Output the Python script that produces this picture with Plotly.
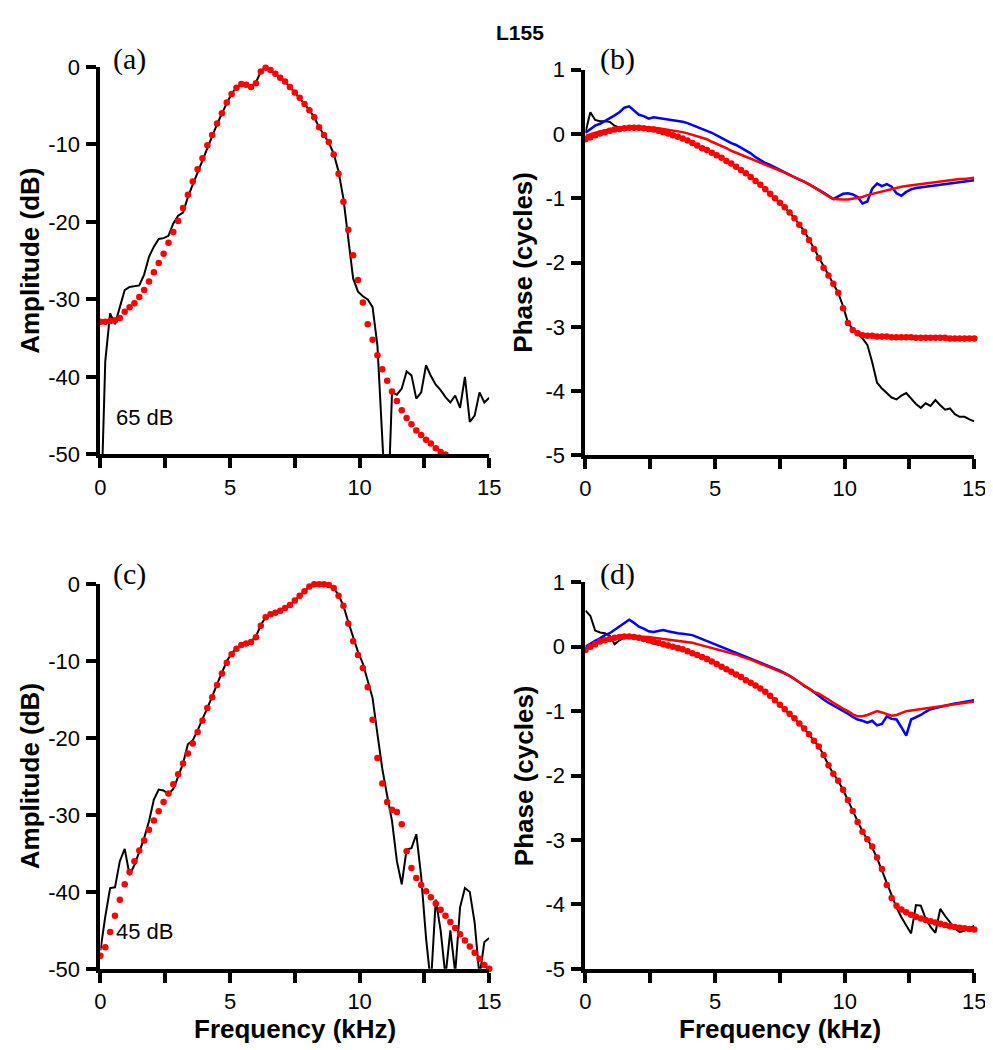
import plotly.graph_objects as go

# ---------------- data ----------------
freq_khz = [0.0, 0.1875, 0.375, 0.5625, 0.75, 0.9375, 1.125, 1.3125, 1.5, 1.6875,
            1.875, 2.0625, 2.25, 2.4375, 2.625, 2.8125, 3.0, 3.1875, 3.375, 3.5625,
            3.75, 3.9375, 4.125, 4.3125, 4.5, 4.6875, 4.875, 5.0625, 5.25, 5.4375,
            5.625, 5.8125, 6.0, 6.1875, 6.375, 6.5625, 6.75, 6.9375, 7.125, 7.3125,
            7.5, 7.6875, 7.875, 8.0625, 8.25, 8.4375, 8.625, 8.8125, 9.0, 9.1875,
            9.375, 9.5625, 9.75, 9.9375, 10.125, 10.3125, 10.5, 10.6875, 10.875, 11.0625,
            11.25, 11.4375, 11.625, 11.8125, 12.0, 12.1875, 12.375, 12.5625, 12.75, 12.9375,
            13.125, 13.3125, 13.5, 13.6875, 13.875, 14.0625, 14.25, 14.4375, 14.625, 14.8125,
            15.0]

# (a) amplitude, 65 dB
amp65_measured = [-60, -38.0, -31.8, -33.2, -31.0, -28.8, -28.4, -28.3, -28.2, -26.8,
                  -24.5, -23.2, -22.2, -22.1, -21.8, -20.2, -19.2, -18.8, -16.8, -15.2,
                  -13.6, -12.0, -10.4, -8.9, -7.4, -6.0, -4.6, -3.4, -2.7, -2.2,
                  -2.3, -2.6, -2.0, -0.6, 0.0, -0.4, -0.9, -1.4, -1.9, -2.6,
                  -3.3, -4.0, -4.8, -5.6, -6.5, -7.8, -8.8, -9.8, -11.2, -13.5,
                  -17.0, -22.5, -27.3, -29.0, -29.6, -30.0, -31.0, -36.0, -46.0, -60.0,
                  -42.0, -42.3, -41.5, -39.3, -39.8, -42.8, -42.0, -38.5, -39.9, -41.0,
                  -41.7, -42.6, -43.3, -42.4, -44.0, -40.0, -45.8, -45.0, -42.0, -43.3,
                  -42.7]
amp65_model = [-32.9, -32.9, -32.8, -32.7, -32.4, -31.6, -31.0, -30.5, -29.7, -28.8,
               -27.7, -26.5, -25.3, -24.1, -22.7, -21.3, -19.9, -18.2, -16.5, -14.8,
               -13.2, -11.8, -10.1, -8.8, -7.3, -6.0, -4.6, -3.5, -2.7, -2.2,
               -2.3, -2.6, -2.1, -0.6, -0.1, -0.4, -0.9, -1.4, -1.9, -2.6,
               -3.3, -4.0, -4.8, -5.6, -6.5, -7.8, -8.8, -9.7, -11.3, -13.8,
               -17.4, -21.0, -24.3, -27.5, -30.4, -33.2, -35.2, -37.2, -39.0, -40.5,
               -41.9, -43.1, -44.3, -45.3, -46.1, -46.9, -47.5, -48.1, -48.6, -49.2,
               -49.7, -50.0, None, None, None, None, None, None, None, None,
               None]

# (b) phase, 65 dB
phase65_measured = [0.02, 0.34, 0.22, 0.20, 0.20, 0.19, 0.13, 0.10, 0.10, 0.10,
                    0.10, 0.10, 0.09, 0.08, 0.07, 0.05, 0.03, 0.01, -0.02, -0.04,
                    -0.07, -0.10, -0.14, -0.18, -0.21, -0.25, -0.29, -0.33, -0.37, -0.42,
                    -0.46, -0.51, -0.56, -0.61, -0.67, -0.73, -0.79, -0.86, -0.93, -1.00,
                    -1.07, -1.14, -1.22, -1.31, -1.41, -1.51, -1.64, -1.78, -1.92, -2.07,
                    -2.21, -2.34, -2.47, -2.68, -2.93, -3.04, -3.10, -3.18, -3.28, -3.55,
                    -3.87, -3.96, -4.03, -4.10, -4.13, -4.07, -4.03, -4.12, -4.20, -4.26,
                    -4.19, -4.23, -4.14, -4.22, -4.29, -4.27, -4.36, -4.40, -4.40, -4.44,
                    -4.47]
phase65_model = [-0.08, -0.05, -0.02, 0.01, 0.03, 0.05, 0.07, 0.08, 0.09, 0.10,
                 0.10, 0.10, 0.09, 0.08, 0.07, 0.05, 0.03, 0.01, -0.02, -0.04,
                 -0.07, -0.10, -0.14, -0.18, -0.22, -0.25, -0.29, -0.33, -0.37, -0.42,
                 -0.46, -0.51, -0.56, -0.61, -0.67, -0.73, -0.79, -0.86, -0.93, -1.00,
                 -1.07, -1.14, -1.22, -1.31, -1.41, -1.52, -1.65, -1.79, -1.93, -2.08,
                 -2.20, -2.33, -2.47, -2.71, -2.94, -3.05, -3.10, -3.13, -3.14, -3.14,
                 -3.15, -3.15, -3.15, -3.16, -3.16, -3.16, -3.16, -3.16, -3.17, -3.17,
                 -3.17, -3.17, -3.17, -3.17, -3.17, -3.18, -3.18, -3.18, -3.18, -3.18,
                 -3.18]
phase65_corrected = [0.02, 0.08, 0.13, 0.16, 0.20, 0.24, 0.29, 0.34, 0.41, 0.43,
                     0.36, 0.30, 0.28, 0.24, 0.26, 0.25, 0.23, 0.22, 0.22, 0.20,
                     0.19, 0.17, 0.14, 0.12, 0.09, 0.06, 0.02, -0.02, -0.06, -0.11,
                     -0.14, -0.17, -0.21, -0.25, -0.30, -0.36, -0.41, -0.45, -0.48, -0.52,
                     -0.56, -0.60, -0.63, -0.67, -0.71, -0.74, -0.78, -0.82, -0.86, -0.91,
                     -0.96, -1.01, -0.97, -0.93, -0.92, -0.94, -0.98, -1.08, -1.05, -0.85,
                     -0.77, -0.81, -0.78, -0.82, -0.92, -0.96, -0.90, -0.86, -0.84, -0.83,
                     -0.81, -0.80, -0.79, -0.78, -0.77, -0.76, -0.75, -0.74, -0.73, -0.73,
                     -0.72]
phase65_corrected_model = [-0.03, 0.00, 0.02, 0.04, 0.06, 0.08, 0.09, 0.10, 0.11, 0.11,
                           0.11, 0.11, 0.11, 0.10, 0.10, 0.09, 0.08, 0.07, 0.06, 0.05,
                           0.03, 0.01, -0.01, -0.03, -0.06, -0.08, -0.12, -0.15, -0.19, -0.22,
                           -0.26, -0.29, -0.32, -0.35, -0.38, -0.42, -0.45, -0.48, -0.51, -0.54,
                           -0.57, -0.60, -0.64, -0.67, -0.71, -0.74, -0.78, -0.83, -0.88, -0.92,
                           -0.97, -1.01, -1.02, -1.02, -1.02, -1.01, -1.00, -0.98, -0.95, -0.93,
                           -0.91, -0.89, -0.87, -0.86, -0.84, -0.82, -0.81, -0.80, -0.78, -0.77,
                           -0.76, -0.75, -0.74, -0.73, -0.73, -0.72, -0.71, -0.70, -0.70, -0.69,
                           -0.68]

# (c) amplitude, 45 dB
amp45_measured = [-47.6, -43.2, -39.5, -39.4, -36.0, -34.4, -37.8, -36.5, -34.8, -33.0,
                  -30.8, -28.0, -26.7, -26.8, -27.3, -26.6, -25.0, -23.3, -20.8, -20.3,
                  -19.0, -17.6, -16.1, -14.6, -13.0, -11.6, -10.0, -9.0, -8.3, -7.9,
                  -7.7, -7.4, -6.8, -5.3, -4.3, -3.9, -3.7, -3.45, -3.1, -2.7,
                  -2.1, -1.5, -0.9, -0.3, 0.0, 0.0, 0.0, -0.1, -0.5, -1.4,
                  -2.8, -4.9, -7.0, -8.8, -10.3, -12.6, -14.8, -19.5, -24.0, -27.5,
                  -30.8, -36.0, -39.0, -34.5, -34.3, -32.5, -38.0, -46.0, -52.0, -41.0,
                  -45.0, -51.0, -45.0, -50.5, -42.0, -39.5, -40.0, -44.0, -51.0, -46.5,
                  -46.0]
amp45_model = [-48.3, -47.2, -45.2, -43.1, -41.0, -39.0, -37.4, -36.0, -34.6, -33.3,
               -31.9, -30.7, -29.5, -28.3, -27.2, -26.0, -24.7, -23.3, -22.0, -20.7,
               -19.2, -17.7, -16.1, -14.7, -13.1, -11.6, -10.2, -9.1, -8.4, -7.9,
               -7.7, -7.5, -6.9, -5.4, -4.3, -3.9, -3.7, -3.45, -3.1, -2.7,
               -2.1, -1.5, -0.9, -0.3, 0.0, 0.0, 0.0, -0.1, -0.5, -1.5,
               -2.8, -5.1, -7.4, -9.2, -10.9, -13.4, -17.6, -22.6, -25.9, -28.3,
               -29.3, -29.6, -31.2, -34.7, -36.9, -38.2, -39.1, -39.9, -40.7, -41.5,
               -42.3, -43.1, -43.9, -44.7, -45.5, -46.3, -47.1, -47.9, -48.7, -49.5,
               -50.0]

# (d) phase, 45 dB
phase45_measured = [0.56, 0.48, 0.25, 0.22, 0.21, 0.17, 0.04, 0.10, 0.14, 0.15,
                    0.15, 0.13, 0.10, 0.07, 0.05, 0.04, 0.03, 0.02, 0.00, -0.02,
                    -0.04, -0.07, -0.10, -0.13, -0.16, -0.19, -0.23, -0.27, -0.31, -0.35,
                    -0.39, -0.43, -0.47, -0.52, -0.56, -0.60, -0.65, -0.70, -0.76, -0.83,
                    -0.90, -0.97, -1.04, -1.11, -1.19, -1.27, -1.36, -1.46, -1.55, -1.68,
                    -1.84, -1.97, -2.08, -2.22, -2.38, -2.55, -2.72, -2.87, -2.99, -3.12,
                    -3.28, -3.47, -3.68, -3.88, -4.05, -4.20, -4.33, -4.45, -4.01, -4.02,
                    -4.22, -4.35, -4.44, -4.07, -4.18, -4.28, -4.37, -4.43, -4.41, -4.38,
                    -4.33]
phase45_model = [-0.05, 0.00, 0.04, 0.08, 0.10, 0.12, 0.14, 0.15, 0.16, 0.16,
                 0.15, 0.14, 0.12, 0.10, 0.08, 0.06, 0.04, 0.02, 0.00, -0.02,
                 -0.04, -0.07, -0.10, -0.13, -0.16, -0.19, -0.23, -0.27, -0.31, -0.35,
                 -0.39, -0.43, -0.47, -0.52, -0.56, -0.60, -0.65, -0.70, -0.76, -0.83,
                 -0.90, -0.97, -1.04, -1.11, -1.19, -1.27, -1.36, -1.46, -1.55, -1.68,
                 -1.84, -1.97, -2.08, -2.22, -2.38, -2.55, -2.72, -2.87, -2.99, -3.10,
                 -3.27, -3.45, -3.70, -3.90, -4.02, -4.08, -4.12, -4.16, -4.19, -4.22,
                 -4.24, -4.26, -4.28, -4.30, -4.32, -4.34, -4.35, -4.36, -4.37, -4.38,
                 -4.39]
phase45_corrected = [0.00, 0.05, 0.09, 0.13, 0.18, 0.21, 0.26, 0.31, 0.36, 0.42,
                     0.37, 0.31, 0.28, 0.24, 0.23, 0.25, 0.26, 0.24, 0.22, 0.21,
                     0.20, 0.19, 0.18, 0.15, 0.12, 0.09, 0.06, 0.03, 0.00, -0.03,
                     -0.06, -0.09, -0.12, -0.15, -0.18, -0.21, -0.25, -0.28, -0.31, -0.34,
                     -0.37, -0.41, -0.45, -0.50, -0.55, -0.61, -0.65, -0.71, -0.76, -0.82,
                     -0.87, -0.91, -0.95, -0.99, -1.04, -1.09, -1.13, -1.15, -1.18, -1.15,
                     -1.22, -1.20, -1.08, -1.12, -1.13, -1.25, -1.38, -1.13, -1.10, -1.06,
                     -1.01, -0.97, -0.95, -0.93, -0.91, -0.90, -0.88, -0.87, -0.86, -0.84,
                     -0.83]
phase45_corrected_model = [-0.03, 0.01, 0.05, 0.08, 0.10, 0.12, 0.14, 0.15, 0.16, 0.16,
                           0.16, 0.16, 0.15, 0.15, 0.14, 0.13, 0.12, 0.11, 0.10, 0.09,
                           0.09, 0.08, 0.06, 0.04, 0.02, 0.00, -0.01, -0.03, -0.05, -0.08,
                           -0.10, -0.12, -0.15, -0.17, -0.20, -0.23, -0.26, -0.29, -0.32, -0.35,
                           -0.38, -0.41, -0.45, -0.50, -0.55, -0.60, -0.65, -0.70, -0.73, -0.77,
                           -0.82, -0.87, -0.92, -0.96, -1.00, -1.05, -1.08, -1.08, -1.06, -1.03,
                           -1.00, -1.02, -1.05, -1.07, -1.06, -1.03, -1.00, -0.99, -0.98, -0.97,
                           -0.96, -0.95, -0.94, -0.93, -0.92, -0.91, -0.90, -0.89, -0.87, -0.86,
                           -0.85]

# tick labels
freq_ticks = [0, 2.5, 5, 7.5, 10, 12.5, 15]
freq_ticktext = ["0", "", "5", "", "10", "", "15"]
amp_ticks = [-50, -40, -30, -20, -10, 0]
amp_ticktext = ["-50", "-40", "-30", "-20", "-10", "0"]
phase_ticks = [-5, -4, -3, -2, -1, 0, 1]
phase_ticktext = ["-5", "-4", "-3", "-2", "-1", "0", "1"]

# ---------------- figure ----------------
W, H = 993, 1050
BLACK = "black"
RED = "#ff0000"
BLUE = "#0000ff"
SANS = "Liberation Sans, Arial, sans-serif"


def px_x(p):
    return p / W


def px_y(p):
    return 1 - p / H


fig = go.Figure()

panels = [
    ("x", "y", amp65_measured, None, None, amp65_model),
    ("x2", "y2", phase65_measured, phase65_corrected, phase65_corrected_model, phase65_model),
    ("x3", "y3", amp45_measured, None, None, amp45_model),
    ("x4", "y4", phase45_measured, phase45_corrected, phase45_corrected_model, phase45_model),
]

for xa, ya, meas, corr, corr_model, model in panels:
    fig.add_trace(go.Scatter(x=freq_khz, y=meas, mode="lines", xaxis=xa, yaxis=ya,
                             line=dict(color=BLACK, width=2), showlegend=False))
    if corr is not None:
        fig.add_trace(go.Scatter(x=freq_khz, y=corr, mode="lines", xaxis=xa, yaxis=ya,
                                 line=dict(color=BLUE, width=2.5), showlegend=False))
        fig.add_trace(go.Scatter(x=freq_khz, y=corr_model, mode="lines", xaxis=xa, yaxis=ya,
                                 line=dict(color=RED, width=2.5), showlegend=False))
    fig.add_trace(go.Scatter(x=freq_khz, y=model, mode="markers", xaxis=xa, yaxis=ya,
                             marker=dict(color=RED, size=6.5, line=dict(width=0)),
                             cliponaxis=False, showlegend=False))

tickfont = dict(family=SANS, size=22, color="black")
common = dict(showline=True, linecolor="black", linewidth=4, ticks="outside",
              ticklen=10, tickwidth=4, tickcolor="black", showgrid=False,
              zeroline=False, tickfont=tickfont, mirror=False)

# domains (pixels)
ax_left = (88, 484)
ax_right = (582, 978)
top_a = (48, 445)
top_b = (51, 446)
bot_c = (578, 972)
bot_d = (576, 972)


def xdom(p):
    return [px_x(p[0]), px_x(p[1])]


def ydom(p):
    return [px_y(p[1]), px_y(p[0])]


xcommon = dict(common, range=[0, 15], tickvals=freq_ticks, ticktext=freq_ticktext,
               ticklabelstandoff=0)
ycommon = dict(common, ticklabelstandoff=2)

fig.update_layout(
    width=W, height=H, autosize=False,
    margin=dict(l=0, r=0, t=0, b=0),
    paper_bgcolor="white", plot_bgcolor="white",
    xaxis=dict(xcommon, domain=xdom(ax_left), anchor="y"),
    yaxis=dict(ycommon, domain=ydom(top_a), anchor="x", range=[-50, 0],
               tickvals=amp_ticks, ticktext=amp_ticktext),
    xaxis2=dict(xcommon, domain=xdom(ax_right), anchor="y2"),
    yaxis2=dict(ycommon, domain=ydom(top_b), anchor="x2", range=[-5, 1],
                tickvals=phase_ticks, ticktext=phase_ticktext),
    xaxis3=dict(xcommon, domain=xdom(ax_left), anchor="y3"),
    yaxis3=dict(ycommon, domain=ydom(bot_c), anchor="x3", range=[-50, 0],
                tickvals=amp_ticks, ticktext=amp_ticktext),
    xaxis4=dict(xcommon, domain=xdom(ax_right), anchor="y4"),
    yaxis4=dict(ycommon, domain=ydom(bot_d), anchor="x4", range=[-5, 1],
                tickvals=phase_ticks, ticktext=phase_ticktext),
)

ann = []
title_font = dict(family=SANS, size=26, color="black")


def add_text(text, x, y, font, angle=0, xanchor="center", yanchor="middle"):
    ann.append(dict(text=text, x=px_x(x), y=px_y(y), xref="paper", yref="paper",
                    showarrow=False, font=font, textangle=angle,
                    xanchor=xanchor, yanchor=yanchor))


add_text("<b>L155</b>", 515, 13, dict(family=SANS, size=21, color="black"))
add_text("<b>Amplitude (dB)</b>", 16, 247, title_font, angle=-90)
add_text("<b>Amplitude (dB)</b>", 16, 775, title_font, angle=-90)
add_text("<b>Phase (cycles)</b>", 519, 248, title_font, angle=-90)
add_text("<b>Phase (cycles)</b>", 519, 774, title_font, angle=-90)
add_text("<b>Frequency (kHz)</b>", 286, 1034, title_font)
add_text("<b>Frequency (kHz)</b>", 780, 1034, title_font)

label_font = dict(family="Liberation Serif, Times New Roman, serif", size=30, color="black")
add_text("(a)", 99, 40, label_font, xanchor="left")
add_text("(b)", 595, 40, label_font, xanchor="left")
add_text("(c)", 99, 568, label_font, xanchor="left")
add_text("(d)", 595, 568, label_font, xanchor="left")

note_font = dict(family=SANS, size=22, color="black")
add_text("65 dB", 102, 407, note_font, xanchor="left")
add_text("45 dB", 102, 934, note_font, xanchor="left")

fig.update_layout(annotations=ann)

fig.write_html("out.html")
